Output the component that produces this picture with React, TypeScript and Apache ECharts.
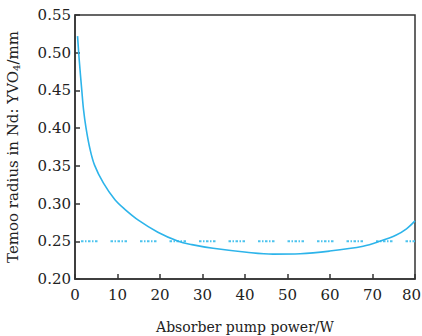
import React, { useEffect, useRef } from "react";
import * as echarts from "echarts";

const curveX = [0.6, 1.0, 1.6, 2.0, 2.6, 3.5, 4.6, 6.7, 9.4, 11.8, 14.9, 19.5, 24.3, 27.5, 32.5, 40.4, 46.6, 53, 59.9, 67.8, 71.7, 75.6, 78, 80];
const curveY = [0.522, 0.49, 0.45, 0.425, 0.4, 0.373, 0.351, 0.327, 0.305, 0.292, 0.278, 0.262, 0.25, 0.2456, 0.2407, 0.2355, 0.233, 0.2335, 0.237, 0.2435, 0.25, 0.2584, 0.2665, 0.277];
const refX = [0, 80];
const refY = [0.25, 0.25];
const xTicks = [0, 10, 20, 30, 40, 50, 60, 70, 80];
const yTicks = [0.2, 0.25, 0.3, 0.35, 0.4, 0.45, 0.5, 0.55];

export default function App() {
  const ref = useRef<HTMLDivElement>(null);
  useEffect(() => {
    if (!ref.current) return;
    const chart = echarts.init(ref.current, null, { renderer: "svg" });
    const font = "DejaVu Serif";
    const xMax = xTicks[xTicks.length - 1];
    chart.setOption({
      animation: false,
      backgroundColor: "#fff",
      grid: {
        left: 75,
        right: 7,
        top: 15,
        bottom: 57,
        show: true,
        borderColor: "#333",
        borderWidth: 1.5,
        outerBoundsMode: "none",
        containLabel: false,
      },
      xAxis: {
        type: "value",
        min: xTicks[0],
        max: xMax,
        interval: 10,
        name: "Absorber pump power/W",
        nameLocation: "middle",
        nameGap: 41,
        nameTextStyle: { fontFamily: font, fontSize: 14, color: "#222" },
        axisLine: { show: true, lineStyle: { color: "#333", width: 1.5 } },
        axisTick: { show: true, inside: true, length: 5, lineStyle: { color: "#333", width: 1.5 } },
        axisLabel: {
          fontFamily: font,
          fontSize: 15,
          color: "#222",
          margin: 8,
          formatter: (v: number) => (v === xMax ? "{e|" + v + "}" : String(v)),
          rich: {
            e: { fontFamily: font, fontSize: 15, color: "#222", padding: [0, 7, 0, 0] },
          },
        },
        splitLine: { show: false },
      },
      yAxis: {
        type: "value",
        min: yTicks[0],
        max: yTicks[yTicks.length - 1],
        interval: 0.05,
        name: "{a|Temoo radius in Nd: YVO}{s|4}{a|/mm}",
        nameLocation: "middle",
        nameGap: 54,
        nameTextStyle: {
          fontFamily: font,
          fontSize: 15,
          color: "#222",
          rich: {
            a: { fontFamily: font, fontSize: 15, color: "#222" },
            s: { fontFamily: font, fontSize: 10, color: "#222", verticalAlign: "bottom", padding: [6, 0, 0, 0] },
          },
        },
        axisLine: { show: true, lineStyle: { color: "#333", width: 1.5 } },
        axisTick: { show: true, inside: true, length: 5, lineStyle: { color: "#333", width: 1.5 } },
        axisLabel: {
          fontFamily: font,
          fontSize: 15,
          color: "#222",
          margin: 4,
          formatter: (v: number) => v.toFixed(2),
        },
        splitLine: { show: false },
      },
      series: [
        {
          type: "line",
          data: refX.map((x, i) => [x, refY[i]]),
          symbol: "none",
          lineStyle: { color: "#4cc3ee", width: 2, type: [2.5, 1.5, 1.5, 1.5, 2.5, 1.5, 1.5, 1.5, 2.5, 13], dashOffset: -6 },
          z: 1,
        },
        {
          type: "line",
          data: curveX.map((x, i) => [x, curveY[i]]),
          symbol: "none",
          smooth: 0.35,
          lineStyle: { color: "#2db4ea", width: 1.6 },
          z: 2,
        },
      ],
    });
    return () => chart.dispose();
  }, []);
  return <div ref={ref} style={{ position: "fixed", left: 0, top: 0, width: 422, height: 336 }} />;
}
